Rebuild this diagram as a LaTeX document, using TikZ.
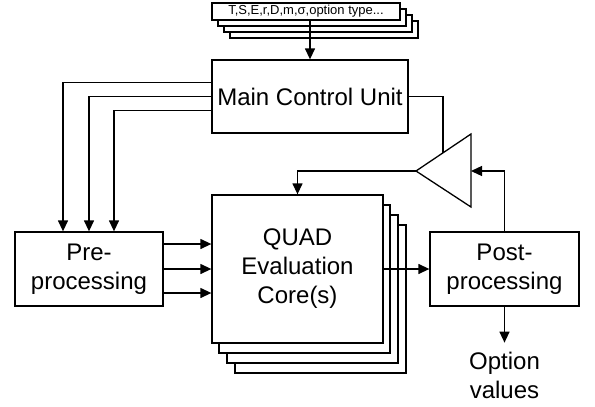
\documentclass[tikz,border=0pt]{standalone}
\usepackage{fontspec}
\setmainfont{Liberation Sans}
\usetikzlibrary{arrows.meta,positioning,calc}

\begin{document}
\begin{tikzpicture}[x=1pt,y=-1pt,line width=1.3pt,
    >={Triangle[length=11pt,width=10pt]}]
      \useasboundingbox (0,0) rectangle (595,407);
      \begin{scope}[every node/.style={draw,fill=white,inner sep=0pt,
          align=center,font=\fontsize{24}{29}\selectfont}]
        % stacked parameter cards
        \foreach \d in {18,12,6}
          \node[minimum width=188pt,minimum height=17pt] at (306+\d,11.5+\d) {};
        \node (params) [minimum width=188pt,minimum height=17pt,
          font=\fontsize{13}{15}\selectfont] at (306,11.5) {T,S,E,r,D,m,σ,option type...};
        \node (mcu) [minimum width=196pt,minimum height=73pt] at (310,96.5) {Main Control Unit};
        \node (pre) [minimum width=148pt,minimum height=74pt] at (89,269) {Pre-\\processing};
        % stacked evaluation cores
        \foreach \dx/\dy in {23/30,15/20,7/10}
          \node[minimum width=171pt,minimum height=148pt] at (297.5+\dx,269+\dy) {};
        \node (quad) [minimum width=171pt,minimum height=148pt] at (297.5,269) {QUAD\\Evaluation\\Core(s)};
        \node (post) [minimum width=149pt,minimum height=74pt] at (504.5,269) {Post-\\processing};
        \node (values) [draw=none,fill=none,inner ysep=9pt,below=36pt of post] {Option\\values};
      \end{scope}
      % amplifier
      \coordinate (amp) at (416,171);
      \coordinate (ampN) at (471,134);
      \coordinate (ampS) at (471,207);
      \coordinate (ampE) at (471,171);
      \coordinate (ampin) at ($(amp)!0.49!(ampN)$);
      \draw[line join=miter] (amp) -- (ampN) -- (ampS) -- cycle;
      \begin{scope}[every path/.style={->}]
        \draw (mcu.north |- params.south) -- (mcu.north);
        \draw ([yshift=14pt]mcu.west) -| ([xshift=-26pt]pre.north);
        \draw (mcu.west) -| (pre.north);
        \draw ([yshift=-14pt]mcu.west) -| ([xshift=25pt]pre.north);
        \foreach \s in {25,0,-24}
          \draw ([yshift=\s pt]pre.east) -- ([yshift=\s pt]quad.west);
        \draw (quad.east) -- (post.west);
        \draw (post.south) -- (values.north);
        \draw (post.north) |- (ampE);
        \draw (amp) -| (quad.north);
      \end{scope}
      \draw (mcu.east) -| (ampin);
    \end{tikzpicture}
\end{document}
